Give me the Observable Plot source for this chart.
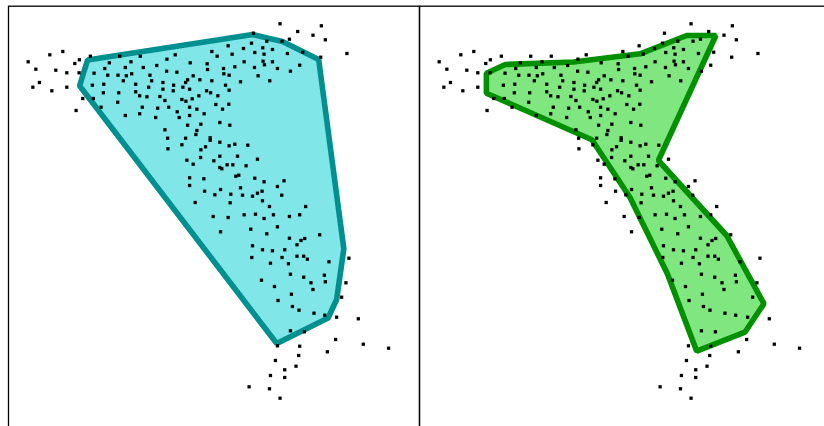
<!DOCTYPE html>
<html><head><meta charset="utf-8">
<script src="https://cdn.jsdelivr.net/npm/d3@7"></script>
<script src="https://cdn.jsdelivr.net/npm/@observablehq/plot@0.6"></script>
<style>
html,body{margin:0;padding:0;background:#fff;overflow:hidden}
#chart{width:824px;height:426px;overflow:hidden}
#chart svg{max-width:none !important;width:836px;height:440px}
</style></head><body><div id="chart"></div>
<script>
// scatter points (shared by both panels)
const pointX = [
61.7,48.7,27,78.3,73.7,89.3,34.7,54.7,65.7,78,38.3,31.7,50.7,65.7,81.7,92.3,75,118.7,139.3,108.3,130,103.7,124.3,142.3,93,106.7,117,125.3,130.7,122.3,91.3,102.7,134.7,102.3,117.7,134.7,138.7,116.7,100,141.3,124.3,138.7,
252.7,266,227.3,250.7,262,242.7,211,216.3,231.3,254,263.3,174.3,166,189.3,206.3,243.3,262.3,263.7,155.7,206.7,222.7,234,253.7,165.7,176,223,228.3,257.3,149,192.3,150.7,186.7,199,211,239.7,269,162,184.7,172.7,182,224.7,147.7,162,172.3,188.7,205.7,209.7,228.3,159,146,198,217,164,181,185,191.3,215,228,156.7,167.7,188.7,196,221.7,176.3,203.3,154.7,178.3,188.7,219,186.7,200,229,164,196,195,166.7,184.7,209.3,209.3,
279.3,320.7,297,312.3,324.7,288.7,281.3,271.7,286.7,302,320,346.3,271.7,299,276.7,289.7,
219,234,228.3,247,167,181,200,204.7,199.7,219,236.7,186,213,256.7,192.3,226.3,232,245.3,219,221,235,238,188.7,203,254,263.3,188.7,239.7,219.7,203.7,261.3,256.7,214,230,241.7,251.7,261.7,194.3,229.3,268.7,212.3,227.3,243.3,254.7,263.3,250,219.7,266,251.7,261.7,251,269.7,
283.3,276.7,281,305,272.7,288.7,299,276.7,319,288.7,300.3,304,296.3,271.7,284,281.3,296.3,303,306.7,328.3,348.3,287.7,
289.7,303,323.7,310.3,324.7,345.3,273.7,312.3,290.7,341,277.3,291.7,298.3,313.3,324,336,357.7,289.7,303.7,335,362.7,276.7,299,388,326.7,298,274.7,295.3,284,269.7,284,268.7,279.3,260.7,248.3
];
const pointY = [
51,54.3,61.3,59.3,63,55.7,68.7,69.7,72.3,72.3,82,86.7,90.3,86.7,98,98,110,55.7,55.7,62.3,61.3,68,67,67,72.7,74.7,74.7,75.3,73.3,80.3,84.7,83.7,83.7,92.3,92.3,91.3,95.3,101.7,106.7,106.7,115,113.3,
32.7,40.7,45.3,42.7,47.3,48,51,55.7,53.7,52,53.7,54.3,58.7,62.3,63.3,61.3,60.7,64.3,65,69,68,66.3,67,70.7,71.7,73.3,74.7,75.3,74.7,75.3,80.3,79.3,79.3,80.3,81.3,80.3,82,82,84.7,86.7,84.7,86.7,88.7,90.3,88.7,90.3,92.3,89.7,96,96.3,95.3,95.3,100,99,100.7,98.3,104,103.7,107.7,106.7,106.7,108.7,108.7,111.3,113.3,117,117,115,122,124.7,123.7,124.7,129.3,130,134,137.7,137.7,137.3,139.8,
23.3,25.3,31,34.7,39.3,38.7,40.7,49,53,51.7,56.7,53,61.3,64.7,68,70.7,
141.7,143.7,145.3,144.7,148.3,144.3,149.3,146.3,157,155.7,155.7,159.7,160.3,158.7,163.7,164.3,164.3,165.3,167,168.3,175.7,174.7,177.3,178.3,177.7,181.3,185,187.3,189,190.7,190.7,192.7,194.3,193.7,194.7,195.7,200.3,202,202.3,206,216,217,214.3,213.7,218,228.7,231.3,233.3,245.3,249.3,257,262.7,
180.3,186,194.7,206,214.3,216,214.3,226.3,234.3,237.7,240,238,244.3,250.3,249.3,257,255.7,255.7,258.7,261.3,257.7,263.3,
273.7,276.7,274.7,282.3,281.3,282.3,286,289,293.7,296.7,300,306,309.7,312.7,314.7,316.7,318.3,330.3,331.3,339,343.7,345.3,345.7,347.7,351.3,355,360,365.7,369.3,375,377,388.3,397.7,279.7,386.3
];
// convex hull (left panel)
const convexX = [252, 281.7, 318, 343.2, 336, 327.5, 276, 78.5, 86.5];
const convexY = [34, 41, 59, 248.3, 299, 317.5, 343, 85.3, 59.5];
// concave hull (right panel)
const concaveX = [304.2, 246.6, 315, 352.3, 333.3, 285, 255.6, 218.3, 180, 74.3, 74.3, 93.3, 161.6, 228.3, 275];
const concaveY = [35, 160, 235, 303.2, 331.7, 350.7, 273.3, 197.3, 139.3, 92.7, 72.7, 64, 61.5, 53.3, 35];
const panels = ["convex", "concave"];

const points = pointX.map((x, i) => ({x, y: pointY[i]}));
const convex = convexX.map((x, i) => ({x, y: convexY[i], panel: panels[0]}));
const concave = concaveX.map((x, i) => ({x, y: concaveY[i], panel: panels[1]}));

const chart = Plot.plot({
  width: 836, height: 440,
  marginLeft: 7.3, marginRight: 5.3, marginTop: 5.7, marginBottom: 0,
  fx: {domain: panels, padding: 0, axis: null, label: null},
  x: {domain: [7.3, 419], axis: null},
  y: {domain: [440, 5.7], axis: null},
  marks: [
    Plot.line(convex, {x: "x", y: "y", fx: "panel", curve: "linear-closed",
      fill: "#80e6e8", stroke: "#009090", strokeWidth: 5.6, strokeLinejoin: "miter"}),
    Plot.line(concave, {x: "x", y: "y", fx: "panel", curve: "linear-closed",
      fill: "#80e680", stroke: "#009000", strokeWidth: 5.6, strokeLinejoin: "miter"}),
    Plot.dot(points, {x: "x", y: "y", symbol: "square", r: 1.85, fill: "black", stroke: "none"}),
    Plot.frame({stroke: "black", strokeWidth: 1.3})
  ]
});
chart.style.maxWidth = "none";
document.getElementById("chart").appendChild(chart);
</script>
</body></html>
